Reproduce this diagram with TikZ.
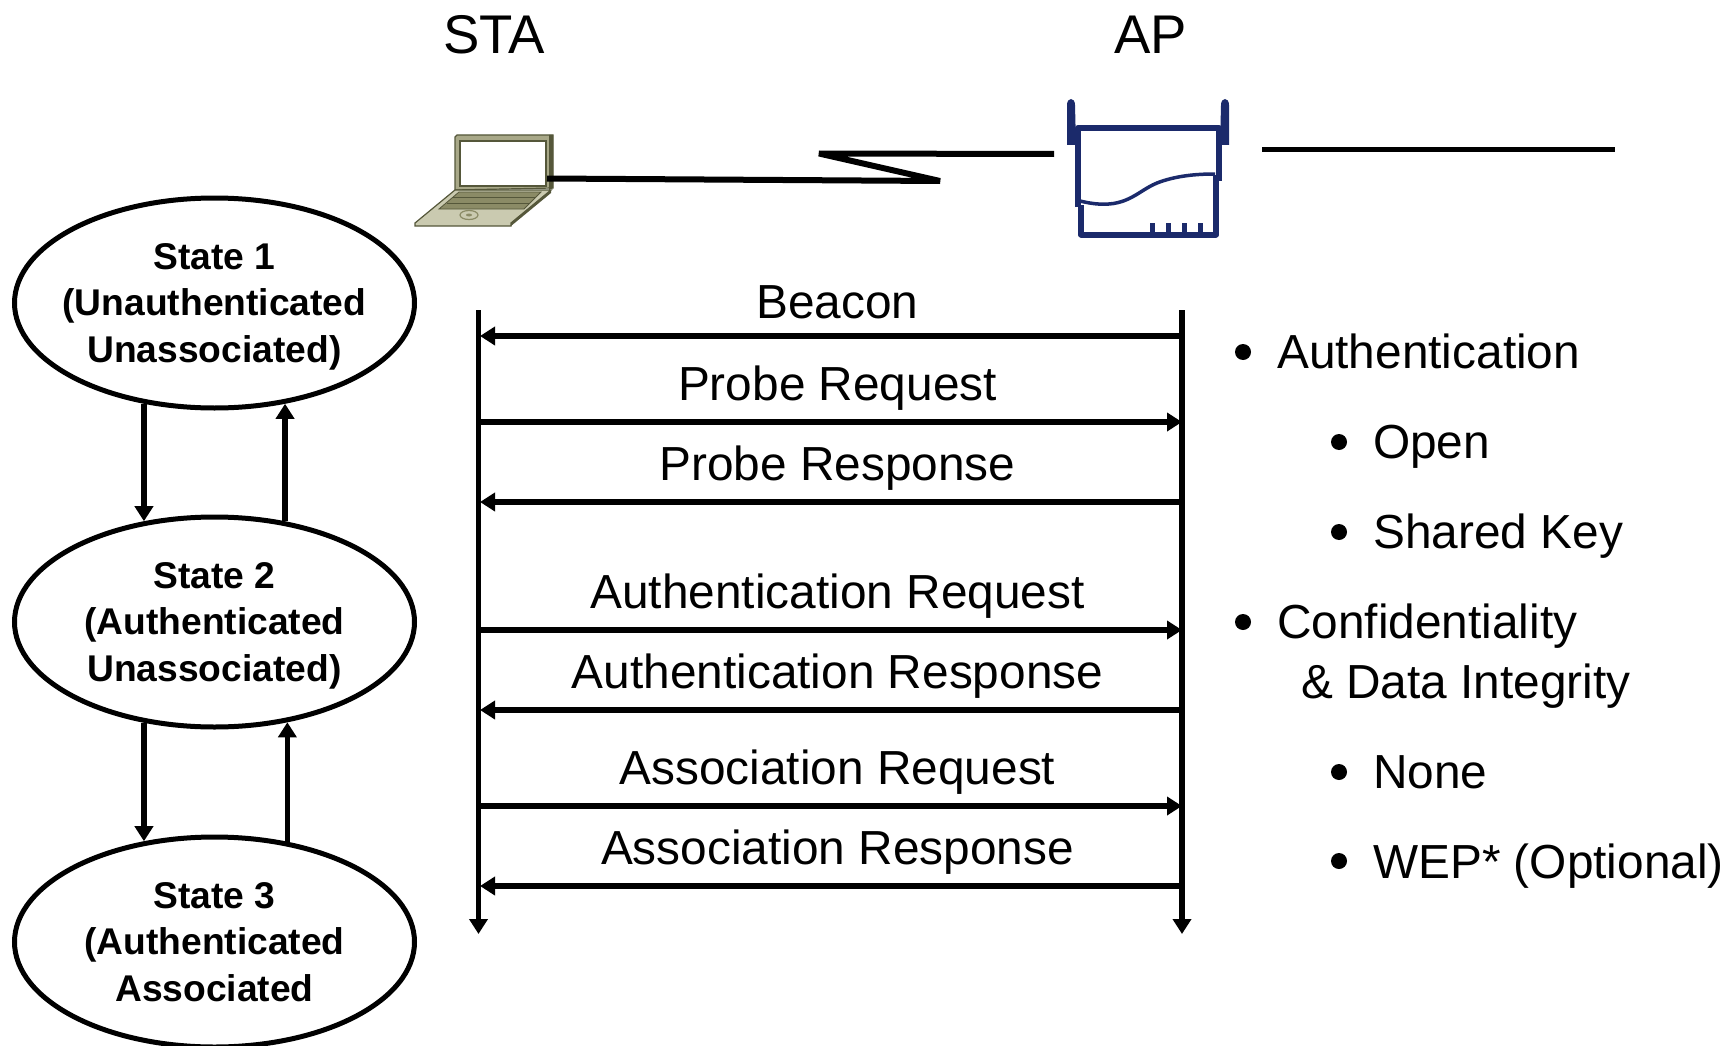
\documentclass[tikz,border=0pt]{standalone}
\usepackage{fontspec}
\setmainfont{Liberation Sans}
\usetikzlibrary{arrows.meta,shapes.geometric}
\definecolor{apblue}{HTML}{1B2A6B}
\definecolor{lapdark}{HTML}{55573A}
\definecolor{lapbody}{HTML}{A8A888}
\definecolor{lapbase}{HTML}{CACAB0}
\definecolor{lapkeys}{HTML}{8B8B66}
\begin{document}
\begin{tikzpicture}[x=1pt, y=-1pt,
	state/.style = {draw, ellipse, line width=5pt, minimum width=400pt, minimum height=210pt, inner xsep=-30pt, inner ysep=0pt, align=center, text depth=-5.5pt, font=\fontsize{37.2}{46.5}\bfseries\selectfont},
	flow/.style = {line width=5.3pt, -{Triangle[length=15pt,width=18pt]}},
	life/.style = {line width=5.3pt, -{Triangle[length=15pt,width=18pt]}},
	msg/.style = {anchor=base, inner sep=0pt, font=\fontsize{47.8}{50}\selectfont},
	head/.style = {anchor=base, inner sep=0pt, font=\fontsize{54.5}{55}\selectfont},
	item/.style = {anchor=base west, inner sep=0pt, font=\fontsize{47.8}{50}\selectfont},
	dot/.style = {circle, fill, inner sep=0pt, minimum size=16pt},
	wire/.style = {line width=6pt, line join=bevel},
	ap/.style = {draw=apblue, line width=6pt, line join=round}]

		\useasboundingbox (0,0) rectangle (1729,1046);

		\node[head] (sta) at (494,54) {STA};
		\node[head] (aplabel) at (1150.5,54) {AP};

		\fill[lapbody, draw=lapdark, line width=1.2pt] (455,137) -- (457,135) -- (553,135) -- (553,188) -- (455,190) -- cycle;
		\fill[lapdark] (549,135) -- (553,135) -- (553,188) -- (549,190) -- cycle;
		\fill[white, draw=lapdark, line width=1.2pt] (460,141) rectangle (546,186);
		\fill[lapbase, draw=lapdark, line width=1.2pt] (455,190) -- (551,190) -- (511,223) -- (511,226) -- (415,226) -- (415,223) -- cycle;
		\fill[lapdark] (551,190) -- (551,193) -- (511,226) -- (511,223) -- cycle;
		\fill[lapkeys, draw=lapdark, line width=0.8pt] (459,192) -- (541,192) -- (524,209) -- (439,209) -- cycle;
		\draw[lapdark, line width=0.8pt] (453,197) -- (536,197) (447,203) -- (530,203);
		\draw[lapkeys, line width=1.2pt] (469,215) ellipse (9pt and 4.5pt);
		\fill[lapkeys] (469,215) ellipse (3pt and 1.5pt);

		\coordinate (laptop) at (547,178.5);
		\coordinate (boltA) at (940,181);
		\coordinate (boltB) at (819,153.5);
		\coordinate (boltC) at (1054,154);
		\draw[wire] (laptop) -- (boltA) -- (boltB) -- (boltC);

		\fill[apblue] (1067,145) -- (1067,105) .. controls (1067,97) and (1075,97) .. (1075,105) -- (1076,145) -- cycle;
		\fill[apblue] (1220,145) -- (1221,105) .. controls (1221,97) and (1229,97) .. (1229,105) -- (1229,145) -- cycle;
		\draw[ap] (1078,207) -- (1078,128) -- (1218.5,128) -- (1218.5,181);
		\draw[ap] (1081,205) -- (1081,234.5) -- (1216,234.5) -- (1216,175);
		\draw[ap, line width=3.5pt] (1080,201) .. controls (1125,212) and (1135,192) .. (1157,183) .. controls (1175,176) and (1195,174) .. (1215,174);
		\draw[ap, line width=5pt] (1152,223) -- (1152,233) (1168,223) -- (1168,233) (1184,223) -- (1184,233) (1200,223) -- (1200,233);

		\coordinate (wanA) at (1262,149.5);
		\coordinate (wanB) at (1615,149.5);
		\draw[line width=5pt] (wanA) -- (wanB);

		\node[state] (s1) at (214.5,303) {State 1\\(Unauthenticated\\Unassociated)};
		\node[state] (s2) at (214.5,622) {State 2\\(Authenticated\\Unassociated)};
		\node[state, text depth=-11pt] (s3) at (214.5,942) {State 3\\(Authenticated\\Associated};

		\draw[flow] (s1.235) to (s2.125);
		\draw[flow] (s2.55) to (s1.305);
		\draw[flow] (s2.235) to (s3.125);
		\draw[flow] (s3.54) to (s2.306);

		\coordinate (staT) at (478.5,310);
		\coordinate (staB) at (478.5,934);
		\coordinate (apT) at (1182,310);
		\coordinate (apB) at (1182,934);
		\draw[life] (staT) to (staB);
		\draw[life] (apT) to (apB);

		\node[msg] (m1) at (837.5,318) {Beacon};
		\node[msg] (m2) at (837.5,400) {Probe Request};
		\node[msg] (m3) at (837.5,480) {Probe Response};
		\node[msg] (m4) at (837.5,608) {Authentication Request};
		\node[msg] (m5) at (837.5,688) {Authentication Response};
		\node[msg] (m6) at (837.5,784) {Association Request};
		\node[msg] (m7) at (837.5,864) {Association Response};

		\coordinate (sta1) at (480,336);
		\coordinate (ap1) at (1180,336);
		\coordinate (sta2) at (479,422);
		\coordinate (ap2) at (1182,422);
		\coordinate (sta3) at (480,502);
		\coordinate (ap3) at (1180,502);
		\coordinate (sta4) at (479,630);
		\coordinate (ap4) at (1182,630);
		\coordinate (sta5) at (480,710);
		\coordinate (ap5) at (1180,710);
		\coordinate (sta6) at (479,806);
		\coordinate (ap6) at (1182,806);
		\coordinate (sta7) at (480,886);
		\coordinate (ap7) at (1180,886);

		\draw[flow] (ap1) to (sta1);
		\draw[flow] (sta2) to (ap2);
		\draw[flow] (ap3) to (sta3);
		\draw[flow] (sta4) to (ap4);
		\draw[flow] (ap5) to (sta5);
		\draw[flow] (sta6) to (ap6);
		\draw[flow] (ap7) to (sta7);

		\node[dot] (d1) at (1243,352) {};
		\node[dot] (d2) at (1339,442) {};
		\node[dot] (d3) at (1339,532) {};
		\node[dot] (d4) at (1243,622) {};
		\node[dot] (d5) at (1339,772) {};
		\node[dot] (d6) at (1339,861) {};

		\node[item] (t1) at (1277,368) {Authentication};
		\node[item] (t2) at (1373,458) {Open};
		\node[item] (t3) at (1373,548) {Shared Key};
		\node[item] (t4) at (1277,638) {Confidentiality};
		\node[item] (t5) at (1301,698) {\& Data Integrity};
		\node[item] (t6) at (1373,788) {None};
		\node[item] (t7) at (1373,878) {WEP* (Optional)};
	\end{tikzpicture}
\end{document}
